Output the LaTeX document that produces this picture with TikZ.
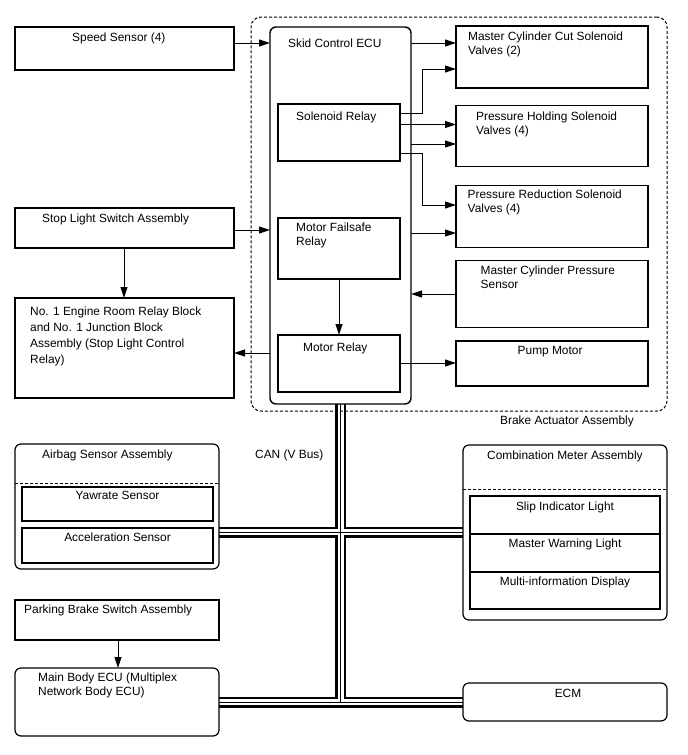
\documentclass[tikz,border=0pt]{standalone}
\usepackage{fontspec}
\setmainfont{Liberation Sans}
\usetikzlibrary{arrows.meta,backgrounds}
\begin{document}
\begin{tikzpicture}[x=1pt,y=-1pt,
  box/.style={draw,line width=1.2pt,anchor=north west,inner sep=0pt,outer sep=0pt},
  rbox/.style={box,rounded corners=6pt},
  txt/.style={anchor=base west,inner sep=0pt,font=\fontsize{11.9}{14}\selectfont},
  ctxt/.style={txt,anchor=base},
  mtxt/.style={anchor=north west,inner sep=0pt,align=left,font=\fontsize{11.9}{14}\selectfont},
  arr/.style={line width=1pt,-{Triangle[length=11pt,width=7pt]}},
  dsh/.style={line width=1pt,dash pattern=on 3pt off 2pt},
  busblack/.style={line width=11pt,black},
  buswhite/.style={line width=6pt,white},
  busmid/.style={line width=1pt,black}]
\useasboundingbox (0,0) rectangle (688,755);

% Left column
\node[box,minimum width=219pt,minimum height=43pt] (speed) at (15,27) {};
\node[txt] (speedT) at (72,41) {Speed Sensor (4)};
\node[box,minimum width=219pt,minimum height=40pt] (stop) at (15,208) {};
\node[txt] (stopT) at (42,222) {Stop Light Switch Assembly};
\node[box,minimum width=219pt,minimum height=100pt] (relayblk) at (15,298) {};
\node[mtxt,font=\fontsize{11.9}{16}\selectfont] (relayblkT) at (30,306.6) {No. 1 Engine Room Relay Block\\and No. 1 Junction Block\\Assembly (Stop Light Control\\Relay)};

% Brake actuator
\node[box,line width=1pt,dash pattern=on 3pt off 2pt,rounded corners=10pt,minimum width=416pt,minimum height=394pt] (brake) at (251,17) {};
\node[txt] (brakeT) at (500,424) {Brake Actuator Assembly};
\node[rbox,line width=1.4pt,minimum width=141pt,minimum height=377pt] (ecu) at (270,27) {};
\node[txt] (ecuT) at (288,47) {Skid Control ECU};
\node[box,minimum width=122pt,minimum height=57pt] (solrel) at (278,104) {};
\node[txt] (solrelT) at (296,120) {Solenoid Relay};
\node[box,minimum width=122pt,minimum height=61pt] (mfr) at (278,218) {};
\node[mtxt] (mfrT) at (296,222.6) {Motor Failsafe\\Relay};
\node[box,minimum width=122pt,minimum height=57pt] (mr) at (278,335) {};
\node[txt] (mrT) at (303,351) {Motor Relay};

\node[box,minimum width=192pt,minimum height=62pt] (mcc) at (456,26) {};
\node[mtxt,font=\fontsize{11.9}{14.5}\selectfont] (mccT) at (468,31.6) {Master Cylinder Cut Solenoid\\Valves (2)};
\node[box,minimum width=192pt,minimum height=61pt] (ph) at (456,105.5) {};
\node[mtxt] (phT) at (476,111.6) {Pressure Holding Solenoid\\Valves (4)};
\node[box,minimum width=192pt,minimum height=62pt] (pr) at (456,185.5) {};
\node[mtxt] (prT) at (467.5,189.6) {Pressure Reduction Solenoid\\Valves (4)};
\node[box,minimum width=192pt,minimum height=67pt] (mcps) at (456,260.5) {};
\node[mtxt] (mcpsT) at (480.5,265.6) {Master Cylinder Pressure\\Sensor};
\node[box,minimum width=192pt,minimum height=45pt] (pump) at (456,341) {};
\node[txt] (pumpT) at (517.5,354) {Pump Motor};

% Arrows top
\draw[arr] (speed.east |- 0,43) -- (ecu.west |- 0,43);
\draw[arr] (ecu.east |- 0,43) -- (mcc.west |- 0,43);
\draw[arr] (solrel.east |- 0,113) -- (422,113) -- (422,69) -- (mcc.west |- 0,69);
\draw[arr] (solrel.east |- 0,124.5) -- (ph.west |- 0,124.5);
\draw[arr] (ecu.east |- 0,144) -- (ph.west |- 0,144);
\draw[arr] (solrel.east |- 0,153) -- (422,153) -- (422,205) -- (pr.west |- 0,205);
\draw[arr] (ecu.east |- 0,233) -- (pr.west |- 0,233);
\draw[arr] (mcps.west |- 0,294) -- (ecu.east |- 0,294);
\draw[arr] (mr.east |- 0,363) -- (pump.west |- 0,363);
\draw[arr] (mfr.south) -- (mr.north);
\draw[arr] (stop.east |- 0,230) -- (ecu.west |- 0,230);
\draw[arr] (ecu.west |- 0,353) -- (relayblk.east |- 0,353);
\draw[arr] (stop.south -| 124,0) -- (relayblk.north -| 124,0);

% Airbag
\node[rbox,minimum width=204pt,minimum height=125pt] (airbag) at (15,444) {};
\node[txt] (airbagT) at (42,458) {Airbag Sensor Assembly};
\draw[dsh] (airbag.west |- 0,483) -- (airbag.east |- 0,483);
\node[box,minimum width=191pt,minimum height=34pt] (yaw) at (22,487) {};
\node[ctxt] (yawT) at (117.5,499) {Yawrate Sensor};
\node[box,minimum width=191pt,minimum height=35pt] (acc) at (22,528) {};
\node[ctxt] (accT) at (117.5,541) {Acceleration Sensor};

\node[txt] (canT) at (255,458) {CAN (V Bus)};

% Combination meter
\node[rbox,minimum width=204pt,minimum height=175pt] (comb) at (463,445) {};
\node[txt] (combT) at (487,459) {Combination Meter Assembly};
\draw[dsh] (comb.west |- 0,489) -- (comb.east |- 0,489);
\node[box,minimum width=190pt,minimum height=38pt] (slip) at (470,496) {};
\node[ctxt] (slipT) at (565,510) {Slip Indicator Light};
\node[box,minimum width=190pt,minimum height=38pt] (mwl) at (470,534) {};
\node[ctxt] (mwlT) at (565,547) {Master Warning Light};
\node[box,minimum width=190pt,minimum height=37pt] (mid) at (470,572) {};
\node[ctxt] (midT) at (565,585) {Multi-information Display};

% Parking / main body / ECM
\node[box,minimum width=204pt,minimum height=40pt] (park) at (15,600) {};
\node[txt] (parkT) at (24,613) {Parking Brake Switch Assembly};
\node[rbox,minimum width=204pt,minimum height=68pt] (mainbody) at (15,668) {};
\node[mtxt] (mainbodyT) at (38,672.6) {Main Body ECU (Multiplex\\Network Body ECU)};
\node[rbox,minimum width=204pt,minimum height=38pt] (ecm) at (463,683) {};
\node[ctxt] (ecmT) at (568,697) {ECM};
\draw[arr] (park.south -| 118,0) -- (mainbody.north -| 118,0);

% CAN bus
\coordinate (busTop) at (ecu.south);
\coordinate (busBot) at (ecu.south |- mainbody.east);
\coordinate (b1L) at (airbag.east |- 0,532);
\coordinate (b1R) at (comb.west |- 0,532);
\begin{scope}[on background layer]
\foreach \s in {busblack,buswhite,busmid}{
  \draw[\s] (busTop) -- (busBot);
  \draw[\s] (b1L) -- (b1R);
  \draw[\s] (mainbody.east) -- (ecm.west);
}
\end{scope}
\end{tikzpicture}
\end{document}
